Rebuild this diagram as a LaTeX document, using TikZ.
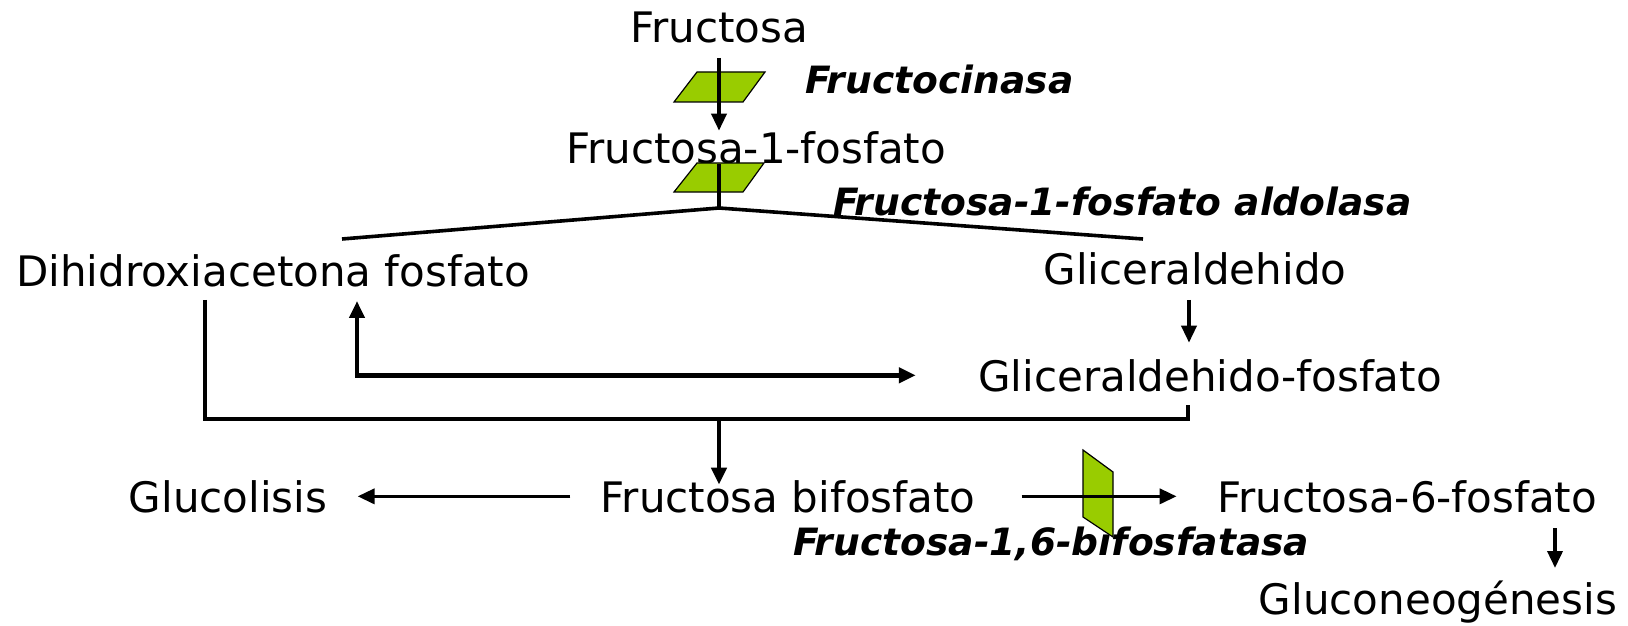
\documentclass[tikz,border=0pt]{standalone}
\usepackage{fontspec}
\setmainfont{DejaVu Sans}
\usetikzlibrary{arrows.meta, calc}
\definecolor{enzgreen}{HTML}{99CC00}
\tikzstyle{metab} = [anchor=base, inner sep=0pt, font=\fontsize{21}{25}\selectfont]
\tikzstyle{enzyme} = [anchor=base west, inner sep=0pt, font=\fontsize{18.8}{22}\selectfont\bfseries\itshape]
\tikzstyle{marker} = [draw=black, line width=0.6pt, fill=enzgreen]
\tikzstyle{link} = [line width=1.8pt]
\tikzstyle{bigline} = [line width=2.3pt]
\tikzstyle{arrow} = [line width=1.8pt, ->, >={Triangle[length=8.5pt,width=7.5pt]}]
\tikzstyle{bigarrow} = [line width=2.3pt, ->, >={Triangle[length=8.5pt,width=7.5pt]}]

\begin{document}
\begin{tikzpicture}[x=0.5pt, y=-0.5pt]
	\useasboundingbox (0,0) rectangle (1628,626);
	% metabolitos
	\node (fru) [metab] at (719,43) {Fructosa};
	\node (f1p) [metab] at (756,163) {Fructosa-1-fosfato};
	\node (dhap) [metab] at (273,286) {Dihidroxiacetona fosfato};
	\node (gli) [metab] at (1195,284) {Gliceraldehido};
	\node (gp) [metab] at (1210,391) {Gliceraldehido-fosfato};
	\node (fbp) [metab] at (788,512) {Fructosa bifosfato};
	\node (glu) [metab] at (228,512) {Glucolisis};
	\node (f6p) [metab] at (1407,512) {Fructosa-6-fosfato};
	\node (gng) [metab] at (1438,614) {Gluconeogénesis};
	% enzimas
	\node (fk) [enzyme] at (805,94) {Fructocinasa};
	\node (ald) [enzyme] at (833,215) {Fructosa-1-fosfato aldolasa};
	\node (fbpase) [enzyme] at (793,555) {Fructosa-1,6-bifosfatasa};
	\draw [marker] (674,102) -- (743,102) -- (765,72) -- (697,72) -- cycle;
	\draw [marker] (674,192) -- (743,192) -- (764,163) -- (697,163) -- cycle;
	\draw [marker] (1083,450) -- (1113,472) -- (1113,537) -- (1083,517) -- cycle;
	% puntos de union
	\coordinate (split) at (719,208);
	\coordinate (dhapend) at (342,239);
	\coordinate (gliend) at (1143,239);
	\coordinate (loop) at (357,374);
	\coordinate (joinl) at (205,419);
	\coordinate (join) at (719,419);
	\coordinate (joinr) at (1188,419);
	\coordinate (down) at (1555,528);
	\draw [arrow] ($(fru.south)+(0,14)$) -- (f1p.north -| fru.south);
	\draw [link] (f1p.south -| split) -- (split);
	\draw [link] (dhapend) -- (split) -- (gliend);
	\draw [arrow] ($(gli.south)+(-6,15)$) -- ($(gp.north -| gli.south)+(-6,-16)$);
	\draw [bigarrow, <->] ($(dhap.south -| loop)+(0,14)$) |- ($(gp.west)+(-62,0)$);
	\draw [bigline] ($(dhap.south -| joinl)+(0,13)$) -- (joinl) -- (joinr) -- ($(gp.south -| joinr)+(0,13)$);
	\draw [bigarrow] (join) -- ($(fbp.north -| join)+(0,5)$);
	\draw [arrow] ($(fbp.west)+(-30,0)$) -- ($(glu.east)+(30,0)$);
	\draw [arrow] ($(fbp.east)+(46,0)$) -- ($(f6p.west)+(-40,0)$);
	\draw [arrow] (down) -- ($(gng.north -| down)+(0,-12)$);
\end{tikzpicture}
\end{document}
